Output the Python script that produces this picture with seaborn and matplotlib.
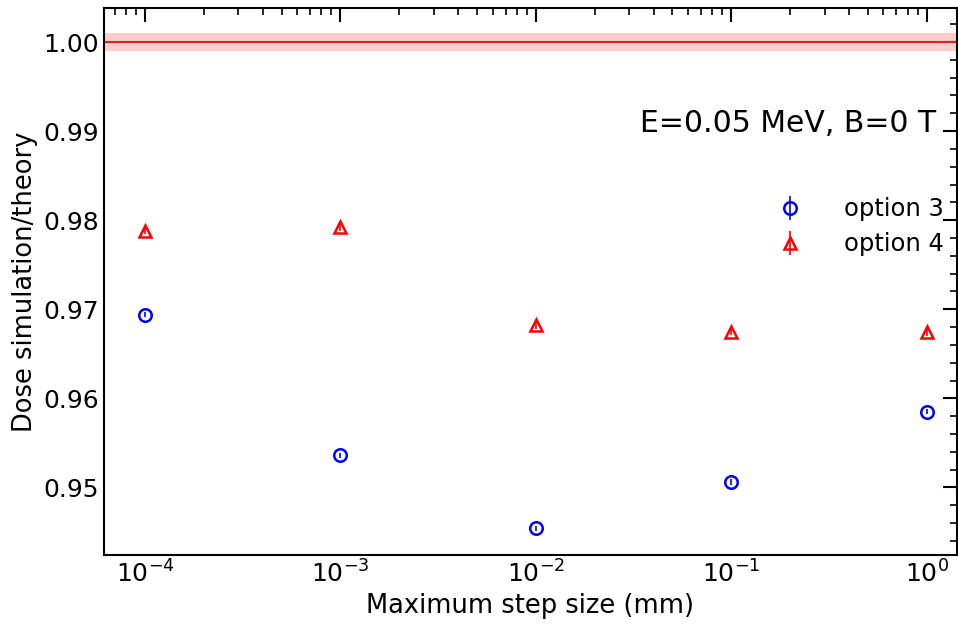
import numpy as np
import pandas as pd
import matplotlib
matplotlib.use("Agg")
import matplotlib.pyplot as plt
import seaborn as sns
from matplotlib.ticker import MultipleLocator, LogLocator, NullFormatter

step_sizes = [1e-4, 1e-3, 1e-2, 1e-1, 1.0]
opt3_values = [0.9694, 0.9536, 0.9454, 0.9506, 0.9585]
opt3_errors = [0.0003, 0.0003, 0.0003, 0.0003, 0.0003]
opt4_values = [0.9788, 0.9792, 0.9682, 0.9675, 0.9674]
opt4_errors = [0.0004, 0.0004, 0.0004, 0.0004, 0.0004]
series_labels = ["option 3", "option 4"]
annotation = "E=0.05 MeV, B=0 T"

sns.set_style("white")
plt.rcParams['font.family'] = ['DejaVu Sans']
for k in ['text.color', 'axes.labelcolor', 'xtick.color', 'ytick.color']:
    plt.rcParams[k] = 'black'

fig, ax = plt.subplots(figsize=(9.58, 6.28), dpi=100)
fig.subplots_adjust(left=0.1085, right=0.999, top=0.987, bottom=0.116)

ax.axhspan(0.999, 1.001, color='#ffcccc', lw=0, zorder=0)
ax.axhline(1.0, color='#dd2222', lw=1.5, zorder=1)

ax.errorbar(step_sizes, opt3_values, yerr=opt3_errors, fmt='o', color='blue',
            mfc='none', mec='blue', ms=9, mew=1.8, elinewidth=1.2, label=series_labels[0])
ax.errorbar(step_sizes, opt4_values, yerr=opt4_errors, fmt='^', color='red',
            mfc='none', mec='red', ms=9, mew=1.8, elinewidth=1.2, label=series_labels[1])

ax.set_xscale('log')
ax.set_xlim(10**-4.21, 10**0.155)
ax.set_ylim(0.9424, 1.0038)
ax.yaxis.set_major_locator(MultipleLocator(0.01))
ax.yaxis.set_minor_locator(MultipleLocator(0.002))
ax.yaxis.set_major_formatter(matplotlib.ticker.FormatStrFormatter('%.2f'))
ax.xaxis.set_major_locator(LogLocator(base=10, numticks=10))
ax.xaxis.set_minor_locator(LogLocator(base=10, subs=np.arange(2, 10), numticks=20))
ax.xaxis.set_minor_formatter(NullFormatter())

ax.tick_params(which='both', direction='in', top=True, right=True, labelsize=18)
ax.tick_params(which='major', length=10, width=1.5)
ax.tick_params(which='minor', length=5, width=1.2)
for s in ax.spines.values():
    s.set_linewidth(1.5)
    s.set_color('black')

ax.set_xlabel("Maximum step size (mm)", fontsize=18.5)
ax.set_ylabel("Dose simulation/theory", fontsize=18.5)

ax.text(0.975, 0.79, annotation, transform=ax.transAxes, ha='right', va='center', fontsize=21.5)
ax.legend(loc='center right', bbox_to_anchor=(1.01, 0.600), frameon=False, fontsize=17.5,
          handletextpad=1.2, labelspacing=0.45)

fig.savefig("out.png", dpi=100)
